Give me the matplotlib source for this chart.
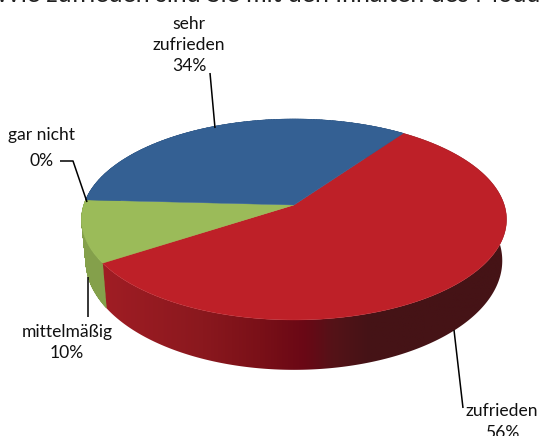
import numpy as np
import matplotlib
matplotlib.use('Agg')
import matplotlib.pyplot as plt
from matplotlib.colors import LinearSegmentedColormap
from matplotlib.patches import PathPatch
from matplotlib.path import Path

plt.rcParams['font.family'] = ['Lato', 'DejaVu Sans']

categories = ['zufrieden', 'mittelmäßig', 'gar nicht', 'sehr zufrieden']
values = [56, 10, 0, 34]
top_colors = ['#be2028', '#9bbb59', '#9bbb59', '#346093']
title = 'Wie zufrieden sind Sie mit den Inhalten des Moduls?'

start_angle = 35.4  # clockwise from the back of the pie

# Perspective of the disc, in pixels
cx, cy = 294.0, 205.0
rx, ry = 210.3, 98.4
persp = 0.144


def project(angle, sx=1.0, sy=1.0, dy=0.0):
    # angle in degrees, clockwise from the far point of the circle
    a = np.radians(angle)
    u, v = np.sin(a), np.cos(a)
    w = 1 + persp * v
    return cx + sx * rx * u / w, cy + dy + sy * ry * v * -1 / w


side_cmap = LinearSegmentedColormap.from_list('red_side', [
    (0.0, '#a01d24'), (0.25, '#8a181e'), (0.39, '#7a1018'), (0.5, '#6a0815'),
    (0.57, '#551218'), (0.66, '#451316'), (1.0, '#451316')])
side_colors = {'mittelmäßig': '#84a04b', 'sehr zufrieden': '#264a73'}

fig = plt.figure(figsize=(5.39, 4.36), dpi=100)
ax = fig.add_axes([0, 0, 1, 1])
ax.axis('off')

# Walk round the pie once to get the slice angles
edges = start_angle + np.cumsum([0] + values) * 3.6

# Side wall first, the top covers whatever is at the back
for i in range(len(values)):
    if values[i] == 0:
        continue
    ang = np.arange(edges[i], edges[i + 1] + 0.5, 0.5)
    xt, yt = project(ang)
    xb, yb = project(ang, 0.98, 1.086, 40)
    # one quad per step, so the outline follows the tangent at the pie's edge
    quads = [Path([(xt[j], yt[j]), (xt[j + 1], yt[j + 1]), (xb[j + 1], yb[j + 1]),
                   (xb[j], yb[j]), (xt[j], yt[j])], closed=True)
             for j in range(len(ang) - 1)]
    wall_path = Path.make_compound_path(*quads)
    if categories[i] == 'zufrieden':
        wall = PathPatch(wall_path, facecolor='none', edgecolor='none')
        ax.add_patch(wall)
        grad = np.linspace(0, 1, 400).reshape(1, -1)
        im = ax.imshow(grad, cmap=side_cmap, aspect='auto', zorder=2,
                       extent=[min(xt.min(), xb.min()), max(xt.max(), xb.max()),
                               max(yt.max(), yb.max()), min(yt.min(), yb.min())])
        im.set_clip_path(wall)
    else:
        ax.add_patch(PathPatch(wall_path, facecolor=side_colors[categories[i]],
                               edgecolor=side_colors[categories[i]], lw=0.3, zorder=2))

# imshow resets the limits, so set them after it
ax.set_xlim(0, 539)
ax.set_ylim(436, 0)

# Top of the disc
for i in range(len(values)):
    if values[i] == 0:
        continue
    ang = np.arange(edges[i], edges[i + 1] + 0.25, 0.25)
    x, y = project(ang)
    ax.fill(np.r_[cx, x], np.r_[cy, y], color=top_colors[i], lw=0.3, zorder=3)

# Leader lines
lines = [
    ([210, 215], [73, 128]),
    ([60, 73, 87], [161, 161, 202]),
    ([88, 88], [277, 317]),
    ([454, 463], [330, 408]),
]
for lx, ly in lines:
    ax.plot(lx, ly, color='black', lw=1.1, zorder=4, solid_capstyle='butt')

# Labels
font_size = 12.6
ax.text(189, 24, 'sehr', ha='center', va='center', fontsize=font_size, color='#111111')
ax.text(189, 45, 'zufrieden', ha='center', va='center', fontsize=font_size, color='#111111')
ax.text(189, 66, '%d%%' % values[3], ha='center', va='center', fontsize=font_size, color='#111111')
ax.text(42, 135, categories[2], ha='center', va='center', fontsize=font_size, color='#111111')
ax.text(42, 161, '%d%%' % values[2], ha='center', va='center', fontsize=font_size, color='#111111')
ax.text(67, 332, categories[1], ha='center', va='center', fontsize=font_size, color='#111111')
ax.text(67, 353, '%d%%' % values[1], ha='center', va='center', fontsize=font_size, color='#111111')
ax.text(502, 411, categories[0], ha='center', va='center', fontsize=font_size, color='#111111')
ax.text(502, 433, '%d%%' % values[0], ha='center', va='center', fontsize=font_size, color='#111111')

# Title is cut off by the top edge, only the bottom of the letters shows
ax.text(282, 1.5, title, ha='center', va='baseline', fontsize=18, color='#222222')

fig.savefig('out.png', dpi=100)
